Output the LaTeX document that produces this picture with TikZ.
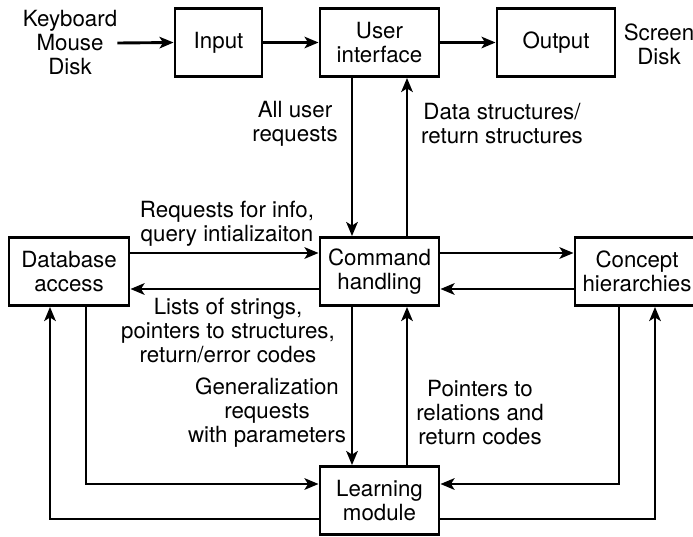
\documentclass[tikz,border=0pt]{standalone}
\usepackage{fontspec}
\setmainfont{TeX Gyre Heros}
\usetikzlibrary{arrows.meta}
\begin{document}
\begin{tikzpicture}[x=1pt,y=-1pt,
  font=\fontsize{22.3}{24}\selectfont,
  box/.style={draw, line width=2.9pt, minimum width=#1, minimum height=68pt,
              inner sep=0pt, align=center},
  lbl/.style={inner sep=0pt, align=center},
  conn/.style={line width=2.9pt},
  arr/.style={conn, -{Stealth[length=14pt,width=11.5pt,inset=3.5pt]}}]
\useasboundingbox (0,0) rectangle (693,536);

% modules
\node[box=87pt]  (input)   at (218.5,42.5) {Input};
\node[box=119pt] (ui)      at (379.5,42.5) {User\\interface};
\node[box=118pt] (output)  at (556,42.5)   {Output};
\node[box=120pt] (db)      at (69,271.5)   {Database\\access};
\node[box=119pt] (cmd)     at (379.5,271.5) {Command\\handling};
\node[box=124pt] (concept) at (637,271.5)  {Concept\\hierarchies};
\node[box=119pt] (learn)   at (379.5,500.5) {Learning\\module};

% devices
\node[lbl] (kb)  at (70,43)  {Keyboard\\Mouse\\Disk};
\node[lbl] (scr) at (659,44) {Screen\\Disk};

% top row
\draw[arr] (kb.east) -- (input.west);
\draw[arr] (input.east) -- (ui.west);
\draw[arr] (ui.east) -- (output.west);

% user interface <-> command handling
\draw[arr] ([xshift=-27.5pt]ui.south) -- ([xshift=-27.5pt]cmd.north);
\draw[arr] ([xshift=27.5pt]cmd.north) -- ([xshift=27.5pt]ui.south);

% database <-> command handling
\draw[arr] ([yshift=18.5pt]db.east) -- ([yshift=18.5pt]cmd.west);
\draw[arr] ([yshift=-17.5pt]cmd.west) -- ([yshift=-17.5pt]db.east);

% command handling <-> concept hierarchies
\draw[arr] ([yshift=18.5pt]cmd.east) -- ([yshift=18.5pt]concept.west);
\draw[arr] ([yshift=-17.5pt]concept.west) -- ([yshift=-17.5pt]cmd.east);

% command handling <-> learning module
\draw[arr] ([xshift=-27.5pt]cmd.south) -- ([xshift=-27.5pt]learn.north);
\draw[arr] ([xshift=27.5pt]learn.north) -- ([xshift=27.5pt]cmd.south);

% database <-> learning module
\draw[arr] ([xshift=17pt]db.south) |- ([yshift=16.5pt]learn.west);
\draw[arr] ([yshift=-18.5pt]learn.west) -| ([xshift=-19pt]db.south);

% concept hierarchies <-> learning module
\draw[arr] ([xshift=-18pt]concept.south) |- ([yshift=16.5pt]learn.east);
\draw[arr] ([yshift=-18.5pt]learn.east) -| ([xshift=18pt]concept.south);

% flow labels
\node[lbl] (l1) at (295,123.5) {All user\\requests};
\node[lbl] (l2) at (502,123.5) {Data structures/\\return structures};
\node[lbl] (l3) at (227,223.5) {Requests for info,\\query intializaiton};
\node[lbl] (l4) at (228,331)   {Lists of strings,\\pointers to structures,\\return/error codes};
\node[lbl] (l5) at (267,413)   {Generalization\\requests\\with parameters};
\node[lbl] (l6) at (480,413)   {Pointers to\\relations and\\return codes};
\end{tikzpicture}
\end{document}
